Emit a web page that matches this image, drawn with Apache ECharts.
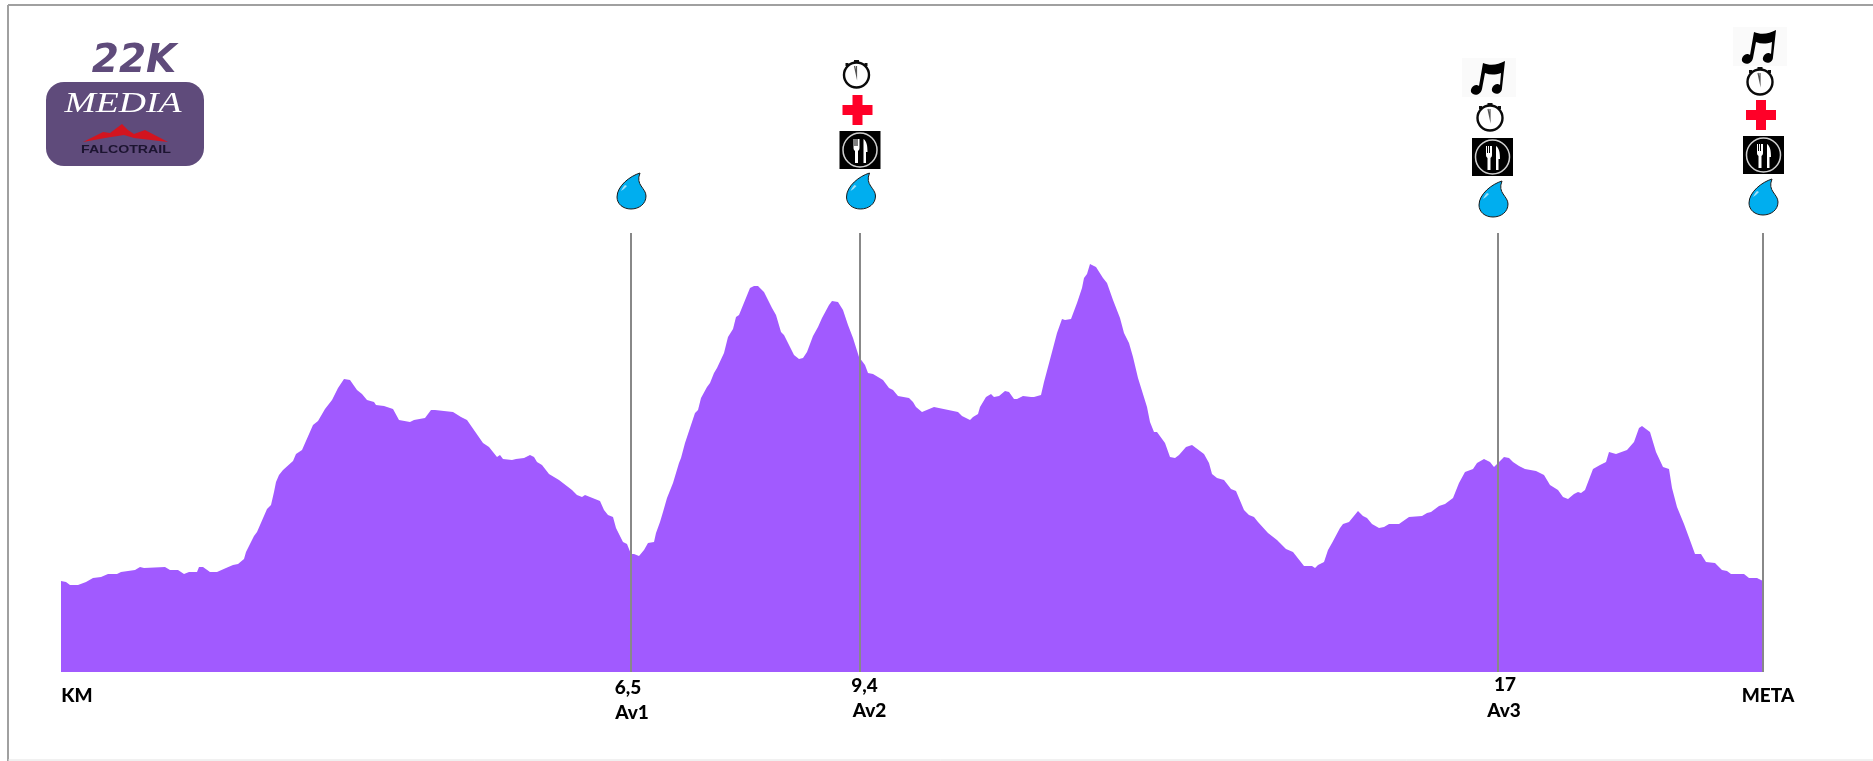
<!DOCTYPE html>
<html>
<head>
<meta charset="utf-8">
<title>22K Media Falcotrail</title>
<script src="https://cdn.jsdelivr.net/npm/echarts@6/dist/echarts.min.js"></script>
<style>
  html, body { margin: 0; padding: 0; background: #fff; }
  #main { width: 1873px; height: 761px; }
</style>
</head>
<body>
<div id="main"></div>
<script>
// perfil: distancia y altura en unidades del dibujo
var distancia = [0,5,9,17,25,32,40,47,56,60,74,79,83,104,109,117,123,128,136,138,142,149,156,165,172,177,183,185,193,196,206,210,213,215,218,222,232,235,241,252,257,264,271,277,283,289,296,301,306,313,315,323,332,338,349,353,364,370,374,392,400,406,422,428,436,439,442,451,455,463,469,473,476,481,488,493,498,511,516,521,524,526,539,543,547,552,555,562,566,570,573,578,583,587,593,595,599,602,606,612,618,620,624,630,634,637,640,646,649,653,656,663,665,667,672,675,678,689,693,697,703,711,715,720,723,733,738,742,746,752,757,761,768,771,777,782,787,792,798,804,807,812,822,828,832,837,848,852,855,861,873,897,901,909,912,917,919,925,930,933,938,944,948,953,956,962,970,973,980,983,987,991,996,1001,1004,1010,1016,1021,1023,1026,1029,1035,1042,1046,1052,1059,1063,1068,1072,1077,1086,1089,1093,1096,1104,1109,1114,1118,1125,1131,1143,1148,1151,1156,1163,1170,1175,1183,1188,1193,1197,1207,1216,1225,1232,1243,1251,1254,1257,1263,1267,1271,1279,1282,1288,1297,1302,1306,1311,1318,1323,1328,1338,1348,1361,1366,1370,1378,1384,1392,1398,1404,1412,1416,1423,1429,1433,1437,1443,1448,1452,1458,1464,1475,1483,1489,1497,1502,1507,1513,1517,1520,1524,1532,1539,1545,1548,1555,1566,1573,1578,1581,1589,1595,1602,1608,1611,1616,1623,1630,1634,1640,1645,1654,1661,1666,1670,1683,1688,1696,1702];
var altura = [91,90,87,87,90,94,95,98,98,100,102,105,104,105,102,102,98,100,100,105,105,100,100,104,107,108,113,120,136,140,163,167,180,190,197,202,211,218,222,247,251,263,272,284,293,292,282,278,272,270,267,266,263,252,250,252,254,262,262,260,255,252,229,225,215,217,213,212,213,214,217,215,210,207,198,195,192,182,177,175,177,175,171,162,157,155,144,130,128,118,118,116,122,129,130,139,150,160,174,189,209,214,229,247,259,262,274,285,289,299,304,319,321,335,343,355,357,384,386,386,380,364,357,340,337,317,313,314,320,336,345,354,367,371,370,362,347,334,315,307,299,298,292,284,282,276,274,270,265,260,265,260,256,252,255,258,265,275,278,275,276,281,280,273,273,276,275,275,277,290,305,320,339,353,352,353,369,384,394,398,408,405,394,389,372,354,339,329,315,294,265,250,240,240,229,215,214,217,225,227,218,209,198,194,192,183,181,162,157,155,150,139,132,123,120,106,106,104,107,110,122,129,144,148,150,161,156,154,148,144,145,148,148,155,156,159,160,166,168,174,189,200,203,209,213,210,205,209,215,214,210,206,203,201,197,187,182,175,173,178,180,179,182,203,207,210,220,218,222,230,244,246,240,220,205,203,184,165,148,129,118,118,110,109,102,101,98,98,94,94,91];

// avituallamientos: posicion en el perfil y textos
var puntosAv = [570, 798.5, 1437, 1702];
var topeLinea = 439;
var kmAv = ["6,5", "9,4", "17"];
var nombresAv = ["Av1", "Av2", "Av3"];
var textoInicio = "KM";
var textoFin = "META";

var colorPerfil = "#a15aff";
var colorLogo = "#5f4b7b";

var chart = echarts.init(document.getElementById("main"));

// iconos dibujados a mano
function gota(x, y) {
  return {
    type: "group",
    x: x,
    y: y,
    children: [
      {
        type: "path",
        shape: {
          pathData:
            "M23 0 C13 3 0 13 0 24 C0 31 6 36 14 36 C22 36 29 31 29 23 C29 15 18 12 23 0 Z",
        },
        style: { fill: "#00aeef", stroke: "#1a1a1a", lineWidth: 1 },
      },
      {
        type: "path",
        shape: { pathData: "M8 12 C6 14 5 16 4 18 C6 17 8 15 10 13 Z" },
        style: { fill: "#9fe0fa" },
      },
    ],
  };
}

function cruz(x, y) {
  return {
    type: "group",
    x: x - 15,
    y: y - 15,
    children: [
      {
        type: "path",
        shape: {
          pathData: "M10 0 H20 V10 H30 V20 H20 V30 H10 V20 H0 V10 H10 Z",
        },
        style: { fill: "#ff0028" },
      },
    ],
  };
}

function crono(x, y) {
  return {
    type: "group",
    x: x,
    y: y,
    children: [
      { type: "rect", shape: { x: -2.5, y: -15, width: 5, height: 3 }, style: { fill: "#111" } },
      { type: "rect", shape: { x: -11, y: -12, width: 3, height: 3 }, style: { fill: "#111" } },
      { type: "rect", shape: { x: 8, y: -12, width: 3, height: 3 }, style: { fill: "#111" } },
      {
        type: "circle",
        shape: { cx: 0, cy: 0, r: 12.5 },
        style: { fill: "#fff", stroke: "#0a0a0a", lineWidth: 2.4 },
      },
      {
        type: "polyline",
        shape: { points: [[-2, -9], [0, 0], [0, -9]] },
        style: { stroke: "#555", lineWidth: 1.2, fill: null },
      },
    ],
  };
}

function plato(x, y) {
  return {
    type: "group",
    x: x,
    y: y,
    children: [
      { type: "rect", shape: { x: 0, y: 0, width: 41, height: 38 }, style: { fill: "#000" } },
      {
        type: "circle",
        shape: { cx: 20.5, cy: 19, r: 17 },
        style: { fill: "#000", stroke: "#d0d0d0", lineWidth: 1.5 },
      },
      {
        type: "path",
        shape: {
          pathData:
            "M14 8 H15 V15 H16 V8 H17 V15 H18 V8 H20 V17 C20 19 19 19 18.5 20 V32 H15.5 V20 C15 19 14 19 14 17 Z",
        },
        style: { fill: "#fff" },
      },
      {
        type: "path",
        shape: { pathData: "M24 32 V8 C27 10 28 14 28 21 H26.5 V32 Z" },
        style: { fill: "#fff" },
      },
    ],
  };
}

function nota(x, y) {
  return {
    type: "group",
    x: x,
    y: y,
    children: [
      { type: "rect", shape: { x: 0, y: 0, width: 54, height: 39 }, style: { fill: "#fafafa" } },
      {
        type: "path",
        shape: {
          pathData:
            "M21 5 C28 8 36 7 43 3 L40 30 C40 35 35 37 32 35 C28 33 30 27 35 26 C36 26 37 26 38 27 L39 15 C33 17 28 17 23 15 L20 31 C19 36 14 38 11 36 C7 34 9 28 14 27 C15 27 16 27 17 28 Z",
        },
        style: { fill: "#000" },
      },
    ],
  };
}

// cada icono: avituallamiento, dibujo, desplazamiento desde la linea, y en pantalla
var iconos = [
  [0, gota, -14, 173],
  [1, gota, -13, 173],
  [1, plato, -20, 131],
  [1, cruz, -2, 110],
  [1, crono, -3, 75],
  [2, gota, -19, 181],
  [2, plato, -26, 138],
  [2, crono, -8, 118],
  [2, nota, -36, 58],
  [3, gota, -14, 179],
  [3, plato, -20, 136],
  [3, cruz, -2, 115],
  [3, crono, -3, 82],
  [3, nota, -30, 27],
];

var lineas = puntosAv.map(function (x) {
  return [
    { xAxis: x, yAxis: 0 },
    { xAxis: x, yAxis: topeLinea },
  ];
});

var option = {
  animation: false,
  grid: { left: 61, top: 0, width: 1702, height: 672 },
  xAxis: { type: "value", min: 0, max: 1702, show: false },
  yAxis: { type: "value", min: 0, max: 672, show: false },
  series: [
    {
      type: "line",
      data: distancia.map(function (d, i) {
        return [d, altura[i]];
      }),
      symbol: "none",
      lineStyle: { width: 0 },
      areaStyle: { color: colorPerfil, opacity: 1 },
      markLine: {
        silent: true,
        symbol: "none",
        label: { show: false },
        lineStyle: { color: "#888", width: 2, type: "solid" },
        data: lineas,
      },
    },
    {
      type: "custom",
      coordinateSystem: "cartesian2d",
      silent: true,
      data: iconos.map(function (ic) {
        return [puntosAv[ic[0]], 0];
      }),
      renderItem: function (params, api) {
        var ic = iconos[params.dataIndex];
        var x = api.coord([api.value(0), 0])[0];
        return ic[1](x + ic[2], ic[3]);
      },
    },
  ],
};
chart.setOption(option);

function textoEje(txt, x, y) {
  return {
    type: "text",
    x: x,
    y: y,
    style: {
      text: txt,
      fontFamily: "Lato, sans-serif",
      fontWeight: 900,
      fontSize: 19,
      fill: "#000",
      align: "center",
      verticalAlign: "middle",
    },
  };
}

function logo() {
  return [
    {
      type: "text",
      x: 134,
      y: 62,
      style: {
        text: "22K",
        fontFamily: '"DejaVu Sans", sans-serif',
        fontStyle: "italic",
        fontWeight: "bold",
        fontSize: 39,
        fill: colorLogo,
        align: "center",
        verticalAlign: "middle",
      },
    },
    {
      type: "rect",
      shape: { x: 46, y: 82, width: 158, height: 84, r: 18 },
      style: { fill: colorLogo },
    },
    {
      type: "text",
      x: 123,
      y: 104,
      scaleX: 1.3,
      style: {
        text: "MEDIA",
        fontFamily: '"Liberation Serif", serif',
        fontStyle: "italic",
        fontSize: 29,
        fill: "#fff",
        align: "center",
        verticalAlign: "middle",
      },
    },
    {
      type: "polygon",
      shape: {
        points: [[83, 142], [103, 132], [110, 133], [122, 124], [128, 130], [134, 134], [145, 130], [168, 142], [134, 138], [124, 135], [105, 138]],
      },
      style: { fill: "#d3141f" },
    },
    {
      type: "text",
      x: 126,
      y: 150,
      scaleX: 1.35,
      style: {
        text: "FALCOTRAIL",
        fontFamily: '"Liberation Sans", sans-serif',
        fontWeight: "bold",
        fontSize: 10.5,
        fill: "#1c1430",
        align: "center",
        verticalAlign: "middle",
      },
    },
  ];
}

// los textos se colocan a partir de la escala del grafico
var xAv = puntosAv.map(function (p) {
  return chart.convertToPixel({ seriesIndex: 0 }, [p, 0])[0];
});

var graficos = [
  // marco de la imagen
  { type: "line", shape: { x1: 8, y1: 5, x2: 1873, y2: 5 }, style: { stroke: "#a0a0a0", lineWidth: 2 } },
  { type: "line", shape: { x1: 8, y1: 5, x2: 8, y2: 761 }, style: { stroke: "#a0a0a0", lineWidth: 2 } },
  { type: "line", shape: { x1: 8, y1: 760, x2: 1873, y2: 760 }, style: { stroke: "#e2e2e2", lineWidth: 1 } },
  textoEje(textoInicio, 77, 696),
  textoEje(kmAv[0], xAv[0] - 3, 688),
  textoEje(nombresAv[0], xAv[0] + 1, 713),
  textoEje(kmAv[1], xAv[1] + 5, 686),
  textoEje(nombresAv[1], xAv[1] + 10, 711),
  textoEje(kmAv[2], xAv[2] + 7, 685),
  textoEje(nombresAv[2], xAv[2] + 6, 711),
  textoEje(textoFin, xAv[3] + 5, 696),
].concat(logo());

chart.setOption({ graphic: { elements: graficos } });
</script>
</body>
</html>
